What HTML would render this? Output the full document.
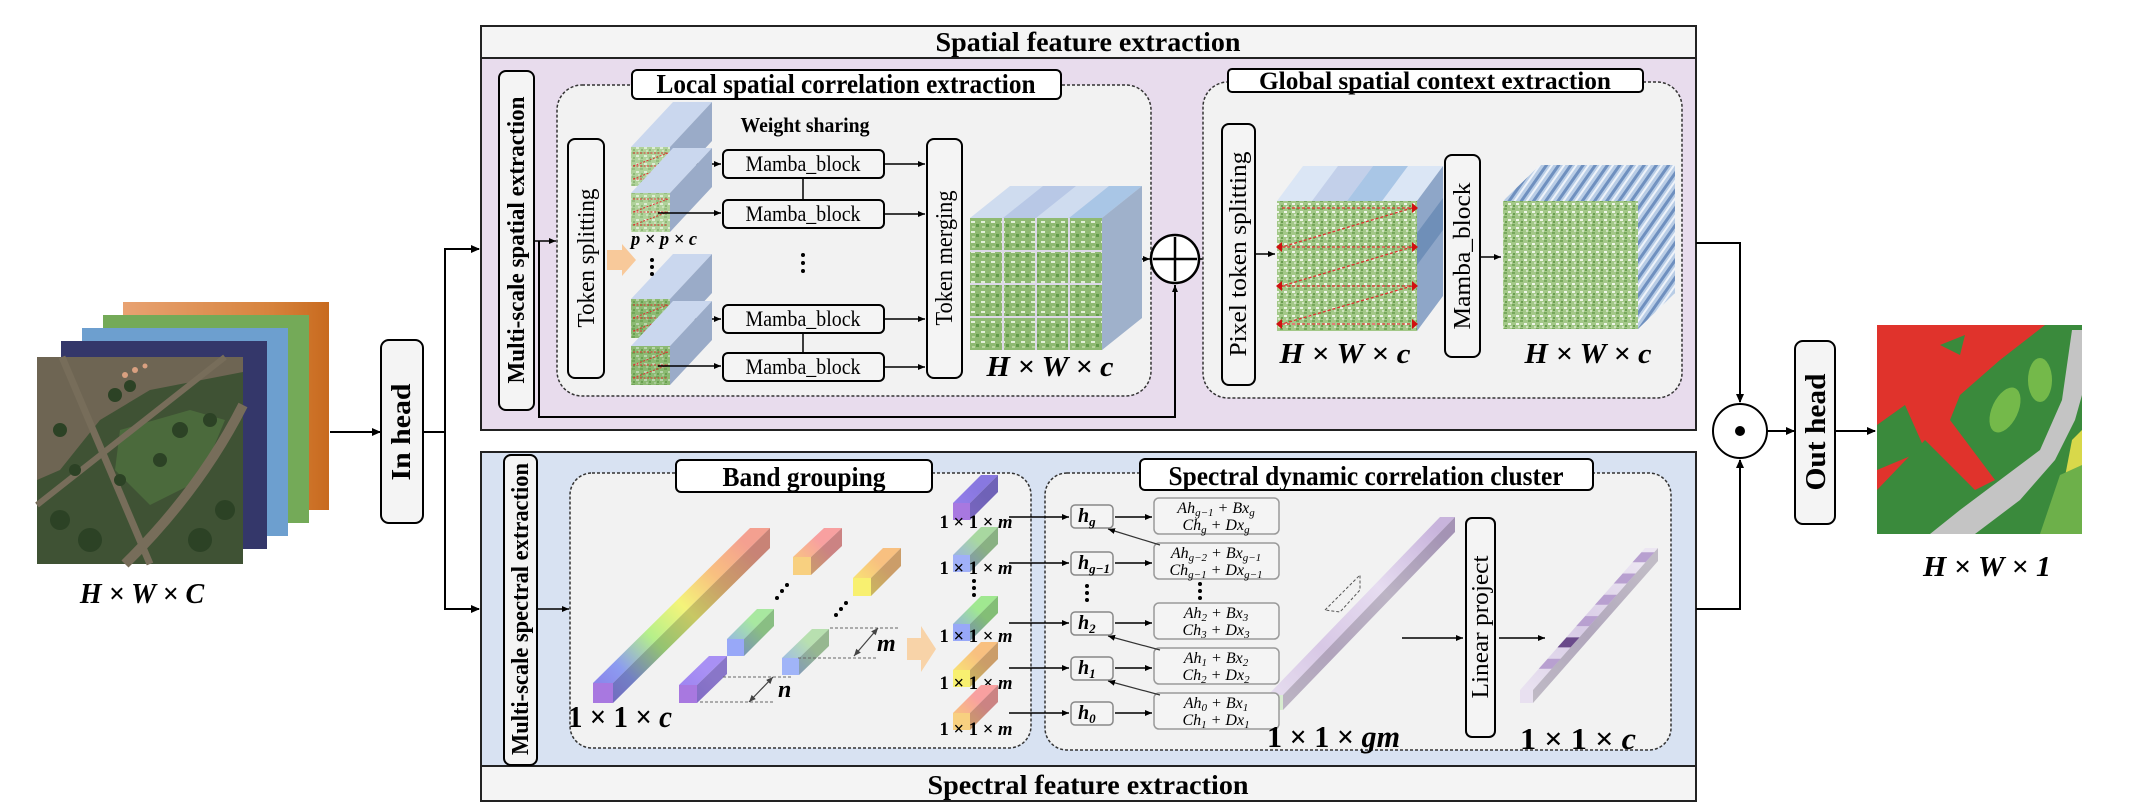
<!DOCTYPE html>
<html><head><meta charset="utf-8"><style>
html,body{margin:0;padding:0;background:#fff;}
svg{display:block;font-family:"Liberation Serif",serif;}
</style></head><body>
<svg id="fig" width="2131" height="807" viewBox="0 0 2131 807" xmlns="http://www.w3.org/2000/svg">
<defs>
<marker id="ar" markerWidth="10" markerHeight="10" refX="8" refY="5" orient="auto" markerUnits="userSpaceOnUse"><path d="M0,1 L9,5 L0,9 z" fill="#000"/></marker>
<marker id="ars" markerWidth="8" markerHeight="8" refX="7" refY="4" orient="auto" markerUnits="userSpaceOnUse"><path d="M0,1 L7,4 L0,7 z" fill="#000"/></marker>
<marker id="arg" markerWidth="8" markerHeight="8" refX="7" refY="4" orient="auto-start-reverse" markerUnits="userSpaceOnUse"><path d="M0,1 L7,4 L0,7 z" fill="#444"/></marker>
<pattern id="grn" width="8" height="8" patternUnits="userSpaceOnUse"><rect width="8" height="8" fill="#a3c888"/><rect x="0" y="0" width="3" height="2" fill="#77a85c"/><rect x="4" y="3" width="3" height="2" fill="#eef5e8"/><rect x="1" y="5" width="2" height="2" fill="#6a9e50"/><rect x="6" y="6" width="2" height="2" fill="#d0e4c0"/></pattern>
<pattern id="grn2" width="10" height="10" patternUnits="userSpaceOnUse"><rect width="10" height="10" fill="#8fba72"/><rect x="1" y="1" width="4" height="2" fill="#e2efd8"/><rect x="6" y="4" width="3" height="3" fill="#62994a"/><rect x="2" y="6" width="3" height="2" fill="#b8d69e"/></pattern>
<pattern id="stripe" width="10" height="10" patternUnits="userSpaceOnUse" patternTransform="rotate(35)"><rect width="10" height="10" fill="#b9cde6"/><rect width="3" height="10" fill="#6f90bf"/><rect x="5" width="2" height="10" fill="#eef3fa"/></pattern>
<linearGradient id="orangeL" x1="0" y1="0" x2="1" y2="0"><stop offset="0" stop-color="#e8a272"/><stop offset="0.7" stop-color="#d7843e"/><stop offset="1" stop-color="#c86a1e"/></linearGradient>
</defs>

<!-- ===== Input stack ===== -->
<g>
<rect x="123" y="302" width="206" height="208" fill="url(#orangeL)"/>
<rect x="103" y="315" width="206" height="208" fill="#74aa58"/>
<rect x="82" y="328" width="206" height="208" fill="#6d9fcf"/>
<rect x="61" y="341" width="206" height="208" fill="#34376a"/>
<g>
<rect x="37" y="357" width="206" height="207" fill="#3f5234"/>
<polygon points="37,357 243,357 243,372 150,390 100,420 60,470 37,480" fill="#6e6553"/>
<polygon points="120,430 190,410 225,420 200,480 150,505 115,470" fill="#4b6a3c"/>
<line x1="62" y1="357" x2="150" y2="564" stroke="#776d5a" stroke-width="7"/>
<line x1="37" y1="505" x2="225" y2="357" stroke="#776d5a" stroke-width="6"/>
<path d="M243,405 Q200,490 125,564" stroke="#776d5a" stroke-width="10" fill="none"/>
<g fill="#2c4225"><circle cx="115" cy="395" r="7"/><circle cx="130" cy="386" r="6"/><circle cx="180" cy="430" r="8"/><circle cx="210" cy="420" r="7"/><circle cx="60" cy="430" r="7"/><circle cx="75" cy="470" r="6"/><circle cx="160" cy="460" r="7"/><circle cx="120" cy="480" r="6"/><circle cx="90" cy="540" r="12"/><circle cx="60" cy="520" r="10"/><circle cx="200" cy="540" r="12"/><circle cx="225" cy="510" r="10"/></g>
<g fill="#d9a080"><circle cx="135" cy="370" r="3"/><circle cx="125" cy="375" r="3"/><circle cx="145" cy="366" r="2.5"/></g>
</g>
<text x="142" y="603" font-size="28" font-weight="bold" font-style="italic" text-anchor="middle">H × W × C</text>
</g>

<line x1="330" y1="432" x2="380" y2="432" stroke="#000" stroke-width="2" marker-end="url(#ar)"/>
<rect x="381" y="340" width="42" height="183" rx="8" fill="#f4f4f4" stroke="#000" stroke-width="2"/>
<text transform="translate(410,432) rotate(-90)" font-size="27" font-weight="bold" text-anchor="middle" textLength="97" lengthAdjust="spacingAndGlyphs">In head</text>
<polyline points="423,432 445,432 445,249 479,249" fill="none" stroke="#000" stroke-width="2" marker-end="url(#ar)"/>
<polyline points="445,432 445,609 479,609" fill="none" stroke="#000" stroke-width="2" marker-end="url(#ar)"/>

<!-- ===== Spatial feature extraction ===== -->
<g>
<rect x="481" y="26" width="1215" height="404" fill="#e8dced" stroke="#222" stroke-width="2"/>
<rect x="481" y="26" width="1215" height="32" fill="#f4f4f4" stroke="#222" stroke-width="2"/>
<text x="1088" y="51" font-size="27" font-weight="bold" text-anchor="middle" textLength="305" lengthAdjust="spacingAndGlyphs">Spatial feature extraction</text>

<rect x="499" y="71" width="35" height="339" rx="7" fill="#f4f4f4" stroke="#000" stroke-width="2"/>
<text transform="translate(524,240) rotate(-90)" font-size="24" font-weight="bold" text-anchor="middle" textLength="287" lengthAdjust="spacingAndGlyphs">Multi-scale spatial extraction</text>

<rect x="557" y="85" width="594" height="311" rx="25" fill="#f2f2f2" stroke="#333" stroke-width="1.5" stroke-dasharray="3,2"/>
<rect x="632" y="70" width="429" height="29" rx="5" fill="#fff" stroke="#000" stroke-width="2"/>
<text x="846" y="93" font-size="27" font-weight="bold" text-anchor="middle" textLength="379" lengthAdjust="spacingAndGlyphs">Local spatial correlation extraction</text>

<line x1="534" y1="241" x2="556" y2="241" stroke="#000" stroke-width="1.5" marker-end="url(#ars)"/>
<polyline points="539,241 539,417 1175,417 1175,285" fill="none" stroke="#000" stroke-width="2" marker-end="url(#ars)"/>

<rect x="568" y="139" width="36" height="239" rx="7" fill="#f4f4f4" stroke="#000" stroke-width="2"/>
<text transform="translate(594,258) rotate(-90)" font-size="24" text-anchor="middle" textLength="139" lengthAdjust="spacingAndGlyphs">Token splitting</text>
<polygon points="607,250 622,250 622,244 636,260 622,276 622,270 607,270" fill="#f8c99a"/>

<g id="patches"></g>
<text x="631" y="245" font-size="19" font-weight="bold" font-style="italic" textLength="66" lengthAdjust="spacingAndGlyphs">p × p × c</text>
<g fill="#000"><circle cx="652" cy="260" r="2"/><circle cx="652" cy="267" r="2"/><circle cx="652" cy="274" r="2"/></g>
<text x="805" y="132" font-size="21" font-weight="bold" text-anchor="middle" textLength="129" lengthAdjust="spacingAndGlyphs">Weight sharing</text>

<g id="mambas"></g>
<line x1="803" y1="179" x2="803" y2="199" stroke="#000" stroke-width="1.5"/>
<line x1="803" y1="334" x2="803" y2="352" stroke="#000" stroke-width="1.5"/>
<g fill="#000"><circle cx="803" cy="255" r="2"/><circle cx="803" cy="263" r="2"/><circle cx="803" cy="271" r="2"/></g>

<rect x="927" y="139" width="35" height="239" rx="7" fill="#f4f4f4" stroke="#000" stroke-width="2"/>
<text transform="translate(952,258) rotate(-90)" font-size="24" text-anchor="middle" textLength="135" lengthAdjust="spacingAndGlyphs">Token merging</text>

<g>
<polygon points="970,218 1010,186 1142,186 1102,218" fill="#cfdcef"/>
<polygon points="1003,218 1043,186 1076,186 1036,218" fill="#b8c8e6"/>
<polygon points="1069,218 1109,186 1142,186 1102,218" fill="#a9c6e6"/>
<polygon points="1102,218 1142,186 1142,318 1102,350" fill="#9fb1cb"/>
<rect x="970" y="218" width="132" height="132" fill="url(#grn2)"/>
<g stroke="#dcd8e8" stroke-width="2"><line x1="1003" y1="218" x2="1003" y2="350"/><line x1="1036" y1="218" x2="1036" y2="350"/><line x1="1069" y1="218" x2="1069" y2="350"/><line x1="970" y1="251" x2="1102" y2="251"/><line x1="970" y1="284" x2="1102" y2="284"/><line x1="970" y1="317" x2="1102" y2="317"/></g>
</g>
<text x="1050" y="376" font-size="29" font-weight="bold" font-style="italic" text-anchor="middle" textLength="127" lengthAdjust="spacingAndGlyphs">H × W × c</text>
<line x1="1142" y1="259" x2="1150" y2="259" stroke="#000" stroke-width="1.5" marker-end="url(#ars)"/>
<g><circle cx="1175" cy="259" r="24" fill="#fff" stroke="#000" stroke-width="2.5"/><line x1="1153" y1="259" x2="1197" y2="259" stroke="#000" stroke-width="2.5"/><line x1="1175" y1="237" x2="1175" y2="281" stroke="#000" stroke-width="2.5"/></g>
<line x1="1199" y1="259" x2="1221" y2="259" stroke="#000" stroke-width="1.5" marker-end="url(#ars)"/>

<rect x="1203" y="82" width="479" height="316" rx="25" fill="#f2f2f2" stroke="#333" stroke-width="1.5" stroke-dasharray="3,2"/>
<rect x="1228" y="69" width="415" height="23" rx="4" fill="#fff" stroke="#000" stroke-width="2"/>
<text x="1435" y="89" font-size="25" font-weight="bold" text-anchor="middle" textLength="352" lengthAdjust="spacingAndGlyphs">Global spatial context extraction</text>
<rect x="1222" y="124" width="33" height="261" rx="7" fill="#f4f4f4" stroke="#000" stroke-width="2"/>
<text transform="translate(1246,254) rotate(-90)" font-size="24" text-anchor="middle" textLength="205" lengthAdjust="spacingAndGlyphs">Pixel token splitting</text>
<line x1="1255" y1="254" x2="1275" y2="254" stroke="#000" stroke-width="1.5" marker-end="url(#ars)"/>
<g>
<polygon points="1277,201 1303,166 1443,166 1417,201" fill="#dbe6f5"/>
<polygon points="1312,201 1338,166 1373,166 1347,201" fill="#c3d0ea"/>
<polygon points="1347,201 1373,166 1408,166 1382,201" fill="#a9c6e6"/>
<polygon points="1417,201 1443,166 1443,296 1417,331" fill="#8ea6c8"/>
<polygon points="1417,233 1443,198 1443,230 1417,265" fill="#6f8fb8"/>
<rect x="1277" y="201" width="140" height="130" fill="url(#grn)"/>
<g stroke="#e03030" stroke-width="1.3" stroke-dasharray="3,2" fill="none"><line x1="1282" y1="208" x2="1412" y2="208"/><line x1="1412" y1="208" x2="1282" y2="247"/><line x1="1282" y1="247" x2="1412" y2="247"/><line x1="1412" y1="247" x2="1282" y2="286"/><line x1="1282" y1="286" x2="1412" y2="286"/><line x1="1412" y1="286" x2="1282" y2="324"/><line x1="1282" y1="324" x2="1412" y2="324"/></g>
<g fill="#d01010"><polygon points="1412,203 1418,208 1412,213"/><polygon points="1282,242 1276,247 1282,252"/><polygon points="1412,242 1418,247 1412,252"/><polygon points="1282,281 1276,286 1282,291"/><polygon points="1412,281 1418,286 1412,291"/><polygon points="1282,319 1276,324 1282,329"/><polygon points="1412,319 1418,324 1412,329"/></g>
</g>
<text x="1345" y="363" font-size="29" font-weight="bold" font-style="italic" text-anchor="middle" textLength="131" lengthAdjust="spacingAndGlyphs">H × W × c</text>
<rect x="1445" y="155" width="35" height="202" rx="7" fill="#f4f4f4" stroke="#000" stroke-width="2"/>
<text transform="translate(1470,256) rotate(-90)" font-size="24" text-anchor="middle" textLength="147" lengthAdjust="spacingAndGlyphs">Mamba_block</text>
<line x1="1480" y1="257" x2="1501" y2="257" stroke="#000" stroke-width="1.5" marker-end="url(#ars)"/>
<g>
<polygon points="1503,201 1540,165 1675,165 1638,201" fill="url(#stripe)"/>
<polygon points="1638,201 1675,165 1675,293 1638,329" fill="url(#stripe)"/>
<rect x="1503" y="201" width="135" height="128" fill="url(#grn)"/>
</g>
<text x="1588" y="363" font-size="29" font-weight="bold" font-style="italic" text-anchor="middle" textLength="127" lengthAdjust="spacingAndGlyphs">H × W × c</text>
</g>

<!-- ===== Spectral feature extraction ===== -->
<g>
<rect x="481" y="452" width="1215" height="314" fill="#d8e2f2" stroke="#222" stroke-width="2"/>
<rect x="481" y="766" width="1215" height="35" fill="#f4f4f4" stroke="#222" stroke-width="2"/>
<text x="1088" y="794" font-size="27" font-weight="bold" text-anchor="middle" textLength="321" lengthAdjust="spacingAndGlyphs">Spectral feature extraction</text>
<rect x="504" y="455" width="33" height="310" rx="7" fill="#f4f4f4" stroke="#000" stroke-width="2"/>
<text transform="translate(528,609) rotate(-90)" font-size="24" font-weight="bold" text-anchor="middle" textLength="292" lengthAdjust="spacingAndGlyphs">Multi-scale spectral extraction</text>
<line x1="537" y1="609" x2="569" y2="609" stroke="#000" stroke-width="1.5" marker-end="url(#ars)"/>

<rect x="570" y="473" width="461" height="275" rx="22" fill="#f2f2f2" stroke="#333" stroke-width="1.5" stroke-dasharray="3,2"/>
<rect x="676" y="460" width="256" height="32" rx="5" fill="#fff" stroke="#000" stroke-width="2"/>
<text x="804" y="486" font-size="27" font-weight="bold" text-anchor="middle" textLength="163" lengthAdjust="spacingAndGlyphs">Band grouping</text>

<rect x="1045" y="473" width="626" height="277" rx="22" fill="#f2f2f2" stroke="#333" stroke-width="1.5" stroke-dasharray="3,2"/>
<rect x="1140" y="459" width="453" height="31" rx="5" fill="#fff" stroke="#000" stroke-width="2"/>
<text x="1366" y="485" font-size="27" font-weight="bold" text-anchor="middle" textLength="395" lengthAdjust="spacingAndGlyphs">Spectral dynamic correlation cluster</text>

<g id="bars"></g>
<text x="568" y="727" font-size="31" font-weight="bold" textLength="104" lengthAdjust="spacingAndGlyphs">1 × 1 × <tspan font-style="italic">c</tspan></text>
<g stroke="#666" stroke-width="1" stroke-dasharray="3,2">
<line x1="723" y1="677" x2="793" y2="677"/><line x1="700" y1="702" x2="773" y2="702"/>
<line x1="830" y1="628" x2="900" y2="628"/><line x1="798" y1="658" x2="877" y2="658"/>
</g>
<line x1="773" y1="677" x2="749" y2="702" stroke="#444" stroke-width="1.2" marker-start="url(#arg)" marker-end="url(#arg)"/>
<line x1="878" y1="628" x2="854" y2="656" stroke="#444" stroke-width="1.2" marker-start="url(#arg)" marker-end="url(#arg)"/>
<text x="778" y="697" font-size="24" font-weight="bold" font-style="italic">n</text>
<text x="877" y="651" font-size="24" font-weight="bold" font-style="italic">m</text>
<g fill="#000"><circle cx="777" cy="598" r="2"/><circle cx="782" cy="591" r="2"/><circle cx="787" cy="585" r="2"/><circle cx="836" cy="615" r="2"/><circle cx="841" cy="609" r="2"/><circle cx="846" cy="603" r="2"/></g>
<polygon points="907,638 921,638 921,626 936,649 921,672 921,660 907,660" fill="#f8d3a8"/>
<g fill="#000"><circle cx="974" cy="581" r="2"/><circle cx="974" cy="588" r="2"/><circle cx="974" cy="595" r="2"/></g>

<g id="hcol"></g>
<g fill="#000"><circle cx="1087" cy="586" r="2"/><circle cx="1087" cy="593" r="2"/><circle cx="1087" cy="600" r="2"/><circle cx="1200" cy="584" r="2"/><circle cx="1200" cy="591" r="2"/><circle cx="1200" cy="598" r="2"/></g>

<text x="1267" y="747" font-size="31" font-weight="bold" textLength="133" lengthAdjust="spacingAndGlyphs">1 × 1 × <tspan font-style="italic">gm</tspan></text>
<line x1="1402" y1="638" x2="1463" y2="638" stroke="#000" stroke-width="1.5" marker-end="url(#ars)"/>
<rect x="1466" y="518" width="29" height="219" rx="6" fill="#f4f4f4" stroke="#000" stroke-width="2"/>
<text transform="translate(1488,627) rotate(-90)" font-size="24" text-anchor="middle" textLength="143" lengthAdjust="spacingAndGlyphs">Linear project</text>
<line x1="1499" y1="638" x2="1545" y2="638" stroke="#000" stroke-width="1.5" marker-end="url(#ars)"/>
<text x="1520" y="749" font-size="31" font-weight="bold" textLength="116" lengthAdjust="spacingAndGlyphs">1 × 1 × <tspan font-style="italic">c</tspan></text>
</g>

<!-- ===== Fusion & output ===== -->
<polyline points="1696,243 1740,243 1740,402" fill="none" stroke="#000" stroke-width="2" marker-end="url(#ar)"/>
<polyline points="1696,609 1740,609 1740,460" fill="none" stroke="#000" stroke-width="2" marker-end="url(#ar)"/>
<g><circle cx="1740" cy="431" r="27" fill="#fff" stroke="#000" stroke-width="2"/><circle cx="1740" cy="431" r="5" fill="#000"/></g>
<line x1="1767" y1="431" x2="1794" y2="431" stroke="#000" stroke-width="2" marker-end="url(#ar)"/>
<rect x="1795" y="341" width="40" height="183" rx="8" fill="#f4f4f4" stroke="#000" stroke-width="2"/>
<text transform="translate(1825,432) rotate(-90)" font-size="29" font-weight="bold" text-anchor="middle" textLength="117" lengthAdjust="spacingAndGlyphs">Out head</text>
<line x1="1835" y1="431" x2="1875" y2="431" stroke="#000" stroke-width="2" marker-end="url(#ar)"/>
<g>
<rect x="1877" y="325" width="205" height="209" fill="#3a8a3c"/>
<polygon points="1877,325 2045,325 2000,360 1960,395 1950,420 1995,480 1975,490 1925,440 1877,490" fill="#e0332c"/>
<polygon points="1877,425 1905,405 1925,450 1877,470" fill="#3a8a3c"/>
<polygon points="1940,345 1965,335 1960,355" fill="#3a8a3c"/>
<ellipse cx="2005" cy="410" rx="13" ry="24" fill="#74b94a" transform="rotate(25 2005 410)"/>
<ellipse cx="2040" cy="380" rx="12" ry="22" fill="#74b94a"/>
<polygon points="2082,330 2072,330 2062,400 2040,450 2000,480 1960,510 1930,534 1975,534 2020,500 2055,460 2075,420 2082,395" fill="#c4c4c4"/>
<polygon points="2072,440 2082,430 2082,470 2062,492" fill="#d8d84a"/>
<polygon points="2060,475 2082,465 2082,534 2040,534" fill="#6db04a"/>
</g>
<text x="1987" y="576" font-size="29" font-weight="bold" font-style="italic" text-anchor="middle" textLength="128" lengthAdjust="spacingAndGlyphs">H × W × 1</text>
</svg>

<script>
var NS="http://www.w3.org/2000/svg";
function mk(tag,attrs,parent){var e=document.createElementNS(NS,tag);for(var k in attrs)e.setAttribute(k,attrs[k]);parent.appendChild(e);return e;}
var defs=document.querySelector('defs');
var gid=0;
function grad(c1,c2,x1,y1,x2,y2){var id='bg'+(gid++);var g=mk('linearGradient',{id:id,gradientUnits:'userSpaceOnUse',x1:x1,y1:y1,x2:x2,y2:y2},defs);var cs=Array.isArray(c1)?c1:[c1,c2];cs.forEach(function(c,i){mk('stop',{offset:i/(cs.length-1),'stop-color':c},g);});return 'url(#'+id+')';}

var pg=document.getElementById('patches');
var patchTops=[147,193,299,346];
patchTops.forEach(function(t,i){
 var g=mk('g',{},pg);
 
 
 mk('polygon',{points:'631,'+t+' 673,'+(t-45)+' 712,'+(t-45)+' 670,'+t,fill:'#cad7ee'},g);
 mk('polygon',{points:'670,'+t+' 712,'+(t-45)+' 712,'+(t-6)+' 670,'+(t+39),fill:'#9aabc8'},g);
 mk('rect',{x:631,y:t,width:39,height:39,fill:i<2?'#c4e0b4':'#6aa452'},g);
 mk('rect',{x:631,y:t,width:39,height:39,fill:'url(#grn)',opacity:0.6},g);
 for(var r=0;r<3;r++){mk('line',{x1:633,y1:t+6+r*13,x2:668,y2:t+6+r*13,stroke:'#e03030','stroke-width':1,'stroke-dasharray':'2,1.5'},g);
  if(r<2)mk('line',{x1:668,y1:t+6+r*13,x2:633,y2:t+19+r*13,stroke:'#e03030','stroke-width':1,'stroke-dasharray':'2,1.5'},g);}
 var my=[164,213,319,366][i];
 mk('line',{x1:658,y1:my,x2:721,y2:my,stroke:'#000','stroke-width':1.5,'marker-end':'url(#ars)'},g);
});

var mg=document.getElementById('mambas');
var mambaY=[150,200,305,353];
mambaY.forEach(function(y){
 var g=mk('g',{},mg);
 
 
 mk('rect',{x:723,y:y,width:161,height:28,rx:5,fill:'#f4f4f4',stroke:'#000','stroke-width':2},g);
 var t=mk('text',{x:803,y:y+21,'font-size':22,'text-anchor':'middle',textLength:115,lengthAdjust:'spacingAndGlyphs'},g);t.textContent='Mamba_block';
 mk('line',{x1:884,y1:y+14,x2:925,y2:y+14,stroke:'#000','stroke-width':1.5,'marker-end':'url(#ars)'},g);
});

var bg=document.getElementById('bars');
function bar(name,x,y,s,dx,dy,cols,front,parent){
 var g=mk('g',{},parent||bg);
 
 
 var fill=grad(cols,null,x,y,x+dx,y+dy);
 mk('polygon',{points:[x,y-s,x+dx,y-s+dy,x+s+dx,y-s+dy,x+s,y-s].join(','),fill:fill},g);
 mk('polygon',{points:[x+s,y-s,x+s+dx,y-s+dy,x+s+dx,y+dy,x+s,y].join(','),fill:fill},g);
 mk('polygon',{points:[x+s,y-s,x+s+dx,y-s+dy,x+s+dx,y+dy,x+s,y].join(','),fill:'#000',opacity:0.18},g);
 mk('rect',{x:x,y:y-s,width:s,height:s,fill:front},g);
 return g;
}
bar('full-spectrum-bar',593,703,20,157,-155,['#8a78e8','#8c9cf0','#b6f08a','#f4f47a','#f8c080','#f4a090'],'#a878e0');
bar('group-bar-purple',679,703,18,30,-29,['#9a80f0','#a890f4'],'#a878e0');
bar('group-bar-blue',727,656,17,30,-30,['#90a8f8','#a8e8a0'],'#98a8f8');
bar('group-bar-blue-2',782,675,17,30,-29,['#98b0f4','#b8e0b0'],'#a0b4f8');
bar('group-bar-orange',793,575,18,31,-29,['#f8d078','#f8a0a0'],'#f8d080');
bar('group-bar-yellow',853,596,18,30,-30,['#f8f070','#f8c080'],'#f8f070');
var colY=[520,572,641,687,730];
var colCols=[['#9a80f0','#8878e0'],['#98a8f8','#a8d8a0'],['#90a0f8','#a0e890'],['#f8f070','#f8c080'],['#f8d070','#f8a0a0']];
var colFront=['#a878e0','#a0b0f8','#98a8f8','#f8f070','#f8d080'];
colY.forEach(function(y,i){
 bar('grouped-band-'+i,953,y,17,28,-28,colCols[i],colFront[i]);
 var t=mk('text',{x:976,y:[528,574,642,689,735][i],'font-size':19,'font-weight':'bold','text-anchor':'middle',textLength:73,lengthAdjust:'spacingAndGlyphs'},bg);
 
 
 t.innerHTML='1 × 1 × <tspan font-style="italic">m</tspan>';
});
bar('concat-bar',1268,710,15,172,-178,['#e8e0f0','#d8c8e6','#e6dcf0','#c8b4dc'],'#d8ecd0');
mk('polygon',{points:'1325,610 1345,590 1360,575 1360,590 1340,612',fill:'none',stroke:'#555','stroke-dasharray':'3,2','stroke-width':1},bg);
var ob=bar('spectral-output-bar',1520,703,13,125,-142,['#ece6f2','#d8cce6','#ece6f2'],'#e8e0f0');
[0.15,0.3,0.45,0.6,0.75,0.9].forEach(function(f,i){
 mk('polygon',{points:[1520+125*f,703-13-142*f,1520+125*f+9,703-13-142*f-10,1520+125*f+22,703-13-142*f-10,1520+125*f+13,703-13-142*f].join(','),fill:i==1?'#6a4a8a':'#b8a0d0'},ob);
});

var hc=document.getElementById('hcol');
var hY=[505,552,612,657,702];
var hSub=['g','g−1','2','1','0'];
var fY=[498,543,603,648,693];
var fL1=[['h','g−1','x','g'],['h','g−2','x','g−1'],['h','2','x','3'],['h','1','x','2'],['h','0','x','1']];
var fL2=[['h','g','x','g'],['h','g−1','x','g−1'],['h','3','x','3'],['h','2','x','2'],['h','1','x','1']];
var arrowY=[517,563,623,668,713];
hY.forEach(function(y,i){
 var g=mk('g',{},hc);
 
 
 mk('line',{x1:1009,y1:arrowY[i],x2:1069,y2:arrowY[i],stroke:'#000','stroke-width':1.5,'marker-end':'url(#ars)'},g);
 mk('rect',{x:1071,y:y,width:42,height:23,rx:4,fill:'#f4f4f4',stroke:'#888','stroke-width':1.5},g);
 var t=mk('text',{x:1078,y:y+17,'font-size':20,'font-style':'italic','font-weight':'bold'},g);
 t.innerHTML='h<tspan font-size="13" dy="4">'+hSub[i]+'</tspan>';
 mk('line',{x1:1115,y1:arrowY[i],x2:1152,y2:arrowY[i],stroke:'#000','stroke-width':1.5,'marker-end':'url(#ars)'},g);
 var fg=mk('g',{},hc);
 
 
 mk('rect',{x:1154,y:fY[i],width:125,height:36,rx:5,fill:'#f4f4f4',stroke:'#999','stroke-width':1.5},fg);
 var a=fL1[i],b=fL2[i];
 var t1=mk('text',{x:1216,y:fY[i]+15,'font-size':16,'font-style':'italic','text-anchor':'middle'},fg);
 t1.innerHTML='A'+a[0]+'<tspan font-size="11" dy="3">'+a[1]+'</tspan><tspan dy="-3"> + B'+a[2]+'</tspan><tspan font-size="11" dy="3">'+a[3]+'</tspan>';
 var t2=mk('text',{x:1216,y:fY[i]+32,'font-size':16,'font-style':'italic','text-anchor':'middle'},fg);
 t2.innerHTML='C'+b[0]+'<tspan font-size="11" dy="3">'+b[1]+'</tspan><tspan dy="-3"> + D'+b[2]+'</tspan><tspan font-size="11" dy="3">'+b[3]+'</tspan>';
 if(i>0 && i!==2){
  mk('line',{x1:1160,y1:fY[i]+2,x2:1108,y2:hY[i-1]+24,stroke:'#333','stroke-width':1.2,'marker-end':'url(#ars)'},fg);
 }
});
</script>
</body></html>
